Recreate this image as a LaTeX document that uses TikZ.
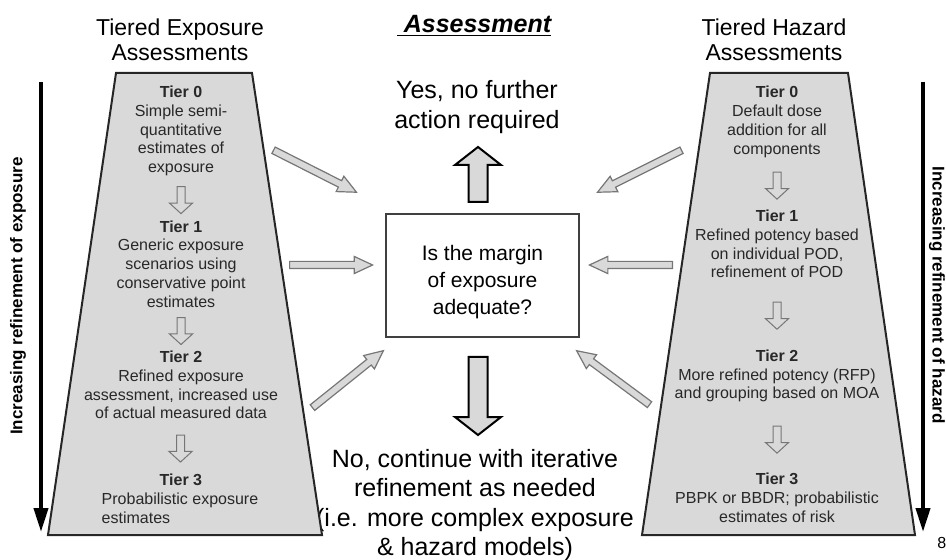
\documentclass[tikz,border=0pt]{standalone}
\usepackage{fontspec}
\setmainfont{Liberation Sans}
\usepackage{xcolor}
\usepackage{tikz}
\usetikzlibrary{arrows.meta,calc,shapes.arrows}
\definecolor{panelgray}{RGB}{217,217,217}
\definecolor{edgegray}{RGB}{118,118,118}
\definecolor{inkgray}{RGB}{40,40,40}
\newcommand{\blockarrow}[3]{\path let \p1=($(#3)-(#2)$), \n1={veclen(\x1,\y1)} in (#2) -- node[#1,pos=0,anchor=tail,minimum height=\n1] {} (#3);}

\begin{document}
\begin{tikzpicture}[x=0.5pt,y=-0.5pt,
 font=\fontsize{8}{9.4}\selectfont,
 coltitle/.style={inner sep=0pt,align=center,font=\fontsize{11.5}{12.5}\selectfont},
 verdict/.style={inner sep=0pt,align=center,font=\fontsize{12.5}{14.6}\selectfont},
 tier/.style={inner sep=0pt,align=center,text=inkgray},
 sidelbl/.style={inner sep=0pt,font=\fontsize{8.5}{10}\selectfont\bfseries},
 panel/.style={draw=black!85,line width=1pt,fill=panelgray},
 qbox/.style={draw=black!75,line width=0.8pt,fill=white,minimum width=96.5pt,minimum height=61.5pt,align=center,font=\fontsize{10.5}{13.5}\selectfont},
 feed/.style={single arrow,draw=edgegray,fill=panelgray,line width=0.6pt,inner sep=1.5pt,single arrow head extend=2.5pt,single arrow tip angle=50,sloped,allow upside down},
 outcome/.style={single arrow,draw=black,fill=panelgray,line width=1pt,inner sep=4.25pt,single arrow head extend=6.75pt,single arrow tip angle=104,sloped,allow upside down},
 tierarr/.style={single arrow,draw=edgegray,line width=0.5pt,inner sep=1.75pt,single arrow head extend=3.75pt,single arrow tip angle=95,minimum height=13.5pt,rotate=-90},
 refine/.style={line width=2pt,-{Triangle[length=12pt,width=7pt]}}]
\useasboundingbox (0,0) rectangle (946,560);

% headings and outcomes
\node[coltitle] (etitle) at (180,40) {Tiered Exposure\\Assessments};
\node[coltitle] (htitle) at (774,40) {Tiered Hazard\\Assessments};
\node[inner sep=0pt,font=\fontsize{12.5}{14}\selectfont\bfseries\itshape] (assess) at (474,26) {\underline{\ Assessment}};
\node[verdict] (yes) at (477,107) {Yes, no further\\action required};
\node[verdict] (no) at (475,505) {No, continue with iterative\\refinement as needed\\(i.e. more complex exposure\\\& hazard models)};

% the two tiered panels
\draw[panel] (116,73) -- (252,73) -- (322,535) -- (48,535) -- cycle;
\draw[panel] (710,73) -- (848,73) -- (915,535) -- (642,535) -- cycle;

\node[tier] (e0) at (181,131) {\textbf{Tier 0}\\Simple semi-\\quantitative\\estimates of\\exposure};
\node[tier] (e1) at (181,264) {\textbf{Tier 1}\\Generic exposure\\scenarios using\\conservative point\\estimates};
\node[tier] (e2) at (181,385) {\textbf{Tier 2}\\Refined exposure\\assessment, increased use\\of actual measured data};
\node[tier,align=left] (e3) at (180,499) {\hspace*{29pt}\textbf{Tier 3}\\Probabilistic exposure\\estimates};
\node[tier] (h0) at (777,122) {\textbf{Tier 0}\\Default dose\\addition for all\\components};
\node[tier] (h1) at (777,244) {\textbf{Tier 1}\\Refined potency based\\on individual POD,\\refinement of POD};
\node[tier] (h2) at (777,376) {\textbf{Tier 2}\\More refined potency (RFP)\\and grouping based on MOA};
\node[tier] (h3) at (777,498) {\textbf{Tier 3}\\PBPK or BBDR; probabilistic\\estimates of risk};

\node[tierarr] (ea1) at ($(e0.south)!0.5!(e1.north)$) {};
\node[tierarr] (ea2) at ($(e1.south)!0.5!(e2.north)$) {};
\node[tierarr] (ea3) at ($(e2.south)!0.5!(e3.north)$) {};
\node[tierarr] (ha1) at ($(h0.south)!0.5!(h1.north)$) {};
\node[tierarr] (ha2) at ($(h1.south)!0.5!(h2.north)$) {};
\node[tierarr] (ha3) at ($(h2.south)!0.5!(h3.north)$) {};

% decision box
\node[qbox] (q) at (482.5,275.5) {\rule{0pt}{14pt}Is the margin\\of exposure\\adequate?};

\coordinate (ein0) at (273,150); \coordinate (qin0) at (356,192);
\coordinate (ein1) at (289,265); \coordinate (qin1) at (372,265);
\coordinate (ein2) at (312,408); \coordinate (qin2) at (383,351);
\coordinate (hin0) at (682,150); \coordinate (qin3) at (598,192);
\coordinate (hin1) at (673,265); \coordinate (qin4) at (590,265);
\coordinate (hin2) at (650,405); \coordinate (qin5) at (577,351);
\blockarrow{feed}{ein0}{qin0}
\blockarrow{feed}{ein1}{qin1}
\blockarrow{feed}{ein2}{qin2}
\blockarrow{feed}{hin0}{qin3}
\blockarrow{feed}{hin1}{qin4}
\blockarrow{feed}{hin2}{qin5}

\coordinate (upfoot) at (478,203); \coordinate (uptip) at (478,148);
\coordinate (dnfoot) at (478,356); \coordinate (dntip) at (478,434);
\blockarrow{outcome}{upfoot}{uptip}
\blockarrow{outcome}{dnfoot}{dntip}

% refinement axes
\coordinate (lv0) at (41,82); \coordinate (lv1) at (41,532);
\coordinate (rv0) at (923,82); \coordinate (rv1) at (923,532);
\draw[refine] (lv0) -- (lv1);
\draw[refine] (rv0) -- (rv1);
\node[sidelbl,rotate=90] (lref) at (18,296) {Increasing refinement of exposure};
\node[sidelbl,rotate=-90] (rref) at (937,295) {Increasing refinement of hazard};
\node[inner sep=0pt,anchor=base west,font=\fontsize{8}{9}\selectfont] (pg) at (937,548) {8};
\end{tikzpicture}
\end{document}
